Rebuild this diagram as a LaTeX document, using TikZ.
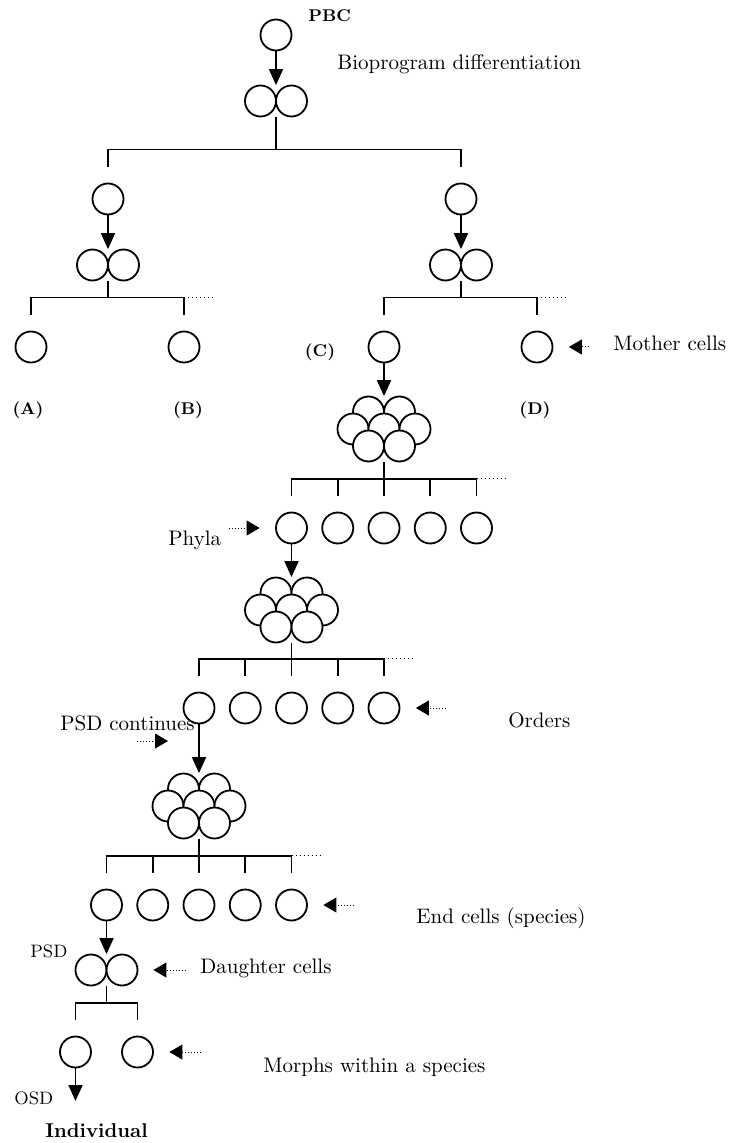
\documentclass[tikz,border=0pt]{standalone}
\usepackage{fontspec}
\usetikzlibrary{arrows.meta}
\usetikzlibrary{calc}

\tikzset{
cell/.style={ % one cell
circle, draw, fill=white,
line width=0.9pt,
minimum size=15.5pt, inner sep=0pt},
twin/.style={minimum width=31pt, minimum height=15.5pt, inner sep=0pt}, % box round two cells
clump/.style={minimum width=46.5pt, minimum height=32.5pt, inner sep=0pt}, % box round seven cells
link/.style={line width=0.9pt},
down/.style={line width=0.9pt, -{Triangle[length=8pt,width=7pt]}},
ptr/.style={line width=0.5pt, dash pattern=on 0.5pt off 1pt,
-{Triangle[length=6.5pt,width=7.5pt]}, shorten >=7.75pt},
more/.style={line width=0.5pt, dash pattern=on 0.5pt off 1.5pt},
txt/.style={font=\fontsize{10.5}{12}\selectfont, inner sep=0pt, anchor=base west},
small/.style={font=\fontsize{9}{11}\selectfont, inner sep=0pt, anchor=base west},
tag/.style={font=\fontsize{8.5}{10}\selectfont\bfseries, inner sep=0pt}}

% two cells side by side
\newcommand\mktwin[3]{%
\node[twin] (#1) at (#2,#3) {};
\node[cell] (#1-l) at ([xshift=-7.75pt]#1.center) {};
\node[cell] (#1-r) at ([xshift=7.75pt]#1.center) {};}
% seven cells in a heap
\newcommand\mkclump[3]{%
\node[clump] (#1) at (#2,#3) {};
\foreach \dx/\dy [count=\i] in {-7.75/8.5, 7.75/8.5, -15.5/0, 0/0, 15.5/0, -7.75/-8.5, 7.75/-8.5}
\node[cell] (#1-\i) at ([shift={(\dx pt,\dy pt)}]#1.center) {};}
% stem, bar and ends from a parent to its first and last child
\newcommand\mkfork[3]{%
\coordinate (#1-bar) at ([yshift=16.5pt]#2.north);
\draw[link] (#1.south) -- (#1.south |- #1-bar);
\draw[link] ([yshift=8pt]#2.north) |- (#1-bar -| #3.north) -- ([yshift=8pt]#3.north);}

\begin{document}
\begin{tikzpicture}[x=0.5pt, y=0.5pt]
	\useasboundingbox (0,0) rectangle (729,-1143);

	% bioprogram differentiation
	\node[cell] (pbc) at (276,-35) {};
	\mktwin{d0}{276}{-101}
	\node[cell] (l1) at (108,-199) {};
	\node[cell] (r1) at (461,-199) {};
	\mktwin{dl}{108}{-265}
	\mktwin{dr}{461}{-265}
	\node[cell] (a) at (31,-347) {};
	\node[cell] (b) at (184,-347) {};
	\node[cell] (c) at (384,-347) {};
	\node[cell] (d) at (537,-347) {};
	\draw[down] (pbc) -- (d0);
	\draw[down] (l1) -- (dl);
	\draw[down] (r1) -- (dr);
	\mkfork{d0}{l1}{r1}
	\mkfork{dl}{a}{b}
	\mkfork{dr}{c}{d}
	\draw[more] (dl-bar -| b) -- ++(30,0);
	\draw[more] (dr-bar -| d) -- ++(30,0);

	% phyla
	\mkclump{k1}{384}{-429}
	\foreach \i in {1,...,5}
		\node[cell] (ph\i) at ({291.5+46.25*(\i-1)},-528) {};
	\draw[down] (c) -- (k1);
	\mkfork{k1}{ph1}{ph5}
	\foreach \i in {2,3,4}
		\draw[link] (ph\i |- k1-bar) -- ([yshift=8pt]ph\i.north);
	\draw[more] (k1-bar -| ph5) -- ++(30,0);

	% orders
	\mkclump{k2}{291.5}{-610}
	\foreach \i in {1,...,5}
		\node[cell] (or\i) at ({199+46.25*(\i-1)},-708) {};
	\draw[down] (ph1) -- (k2);
	\mkfork{k2}{or1}{or5}
	\foreach \i in {2,3,4}
		\draw[link] (or\i |- k2-bar) -- ([yshift=8pt]or\i.north);
	\draw[more] (k2-bar -| or5) -- ++(30,0);

	% end cells
	\mkclump{k3}{199}{-806}
	\foreach \i in {1,...,5}
		\node[cell] (en\i) at ({106.5+46.25*(\i-1)},-905) {};
	\draw[down] (or1) -- (k3);
	\mkfork{k3}{en1}{en5}
	\foreach \i in {2,3,4}
		\draw[link] (en\i |- k3-bar) -- ([yshift=8pt]en\i.north);
	\draw[more] (k3-bar -| en5) -- ++(30,0);

	% daughter cells and morphs
	\mktwin{dd}{106.5}{-970}
	\node[cell] (m1) at (75.5,-1052) {};
	\node[cell] (m2) at (137.5,-1052) {};
	\coordinate (osd) at (75.5,-1101);
	\draw[down] (en1) -- (dd);
	\mkfork{dd}{m1}{m2}
	\draw[down] (m1) -- (osd);

	% pointers
	\coordinate (t-mc) at (589,-347);
	\coordinate (t-phy) at (229,-528);
	\coordinate (t-ord) at (446,-708);
	\coordinate (t-psd) at (137,-741);
	\coordinate (t-end) at (354,-905);
	\coordinate (t-dau) at (186,-970);
	\coordinate (t-mor) at (201,-1052);
	\draw[ptr] (t-mc) -- (d);
	\draw[ptr] (t-phy) -- (ph1);
	\draw[ptr] (t-ord) -- (or5);
	\draw[ptr, shorten >=15.5pt] (t-psd) -- (t-psd -| or1);
	\draw[ptr] (t-end) -- (en5);
	\draw[ptr] (t-dau) -- (dd);
	\draw[ptr] (t-mor) -- (m2);

	% labels
	\node[tag, anchor=base west] (pbc-t) at (308,-22) {PBC};
	\node[txt] (bio) at (337,-70) {Bioprogram differentiation};
	\node[tag] (a-t) at (28,-410) {(A)};
	\node[tag] (b-t) at (188,-410) {(B)};
	\node[tag] (c-t) at (320,-352) {(C)};
	\node[tag] (d-t) at (535,-410) {(D)};
	\node[txt] (mc) at (613,-351) {Mother cells};
	\node[txt] (phy) at (168,-545) {Phyla};
	\node[txt] (ord) at (508,-727) {Orders};
	\node[txt] (psdc) at (60,-730) {PSD continues};
	\node[txt] (end) at (416,-923) {End cells (species)};
	\node[small] (psd) at (30,-957) {PSD};
	\node[txt] (dau) at (200,-973) {Daughter cells};
	\node[txt] (mor) at (263,-1072) {Morphs within a species};
	\node[small] (osd-t) at (14,-1104) {OSD};
	\node[tag, anchor=base west, font=\fontsize{10}{12}\selectfont\bfseries] (ind) at (45,-1137) {Individual};
\end{tikzpicture}
\end{document}
